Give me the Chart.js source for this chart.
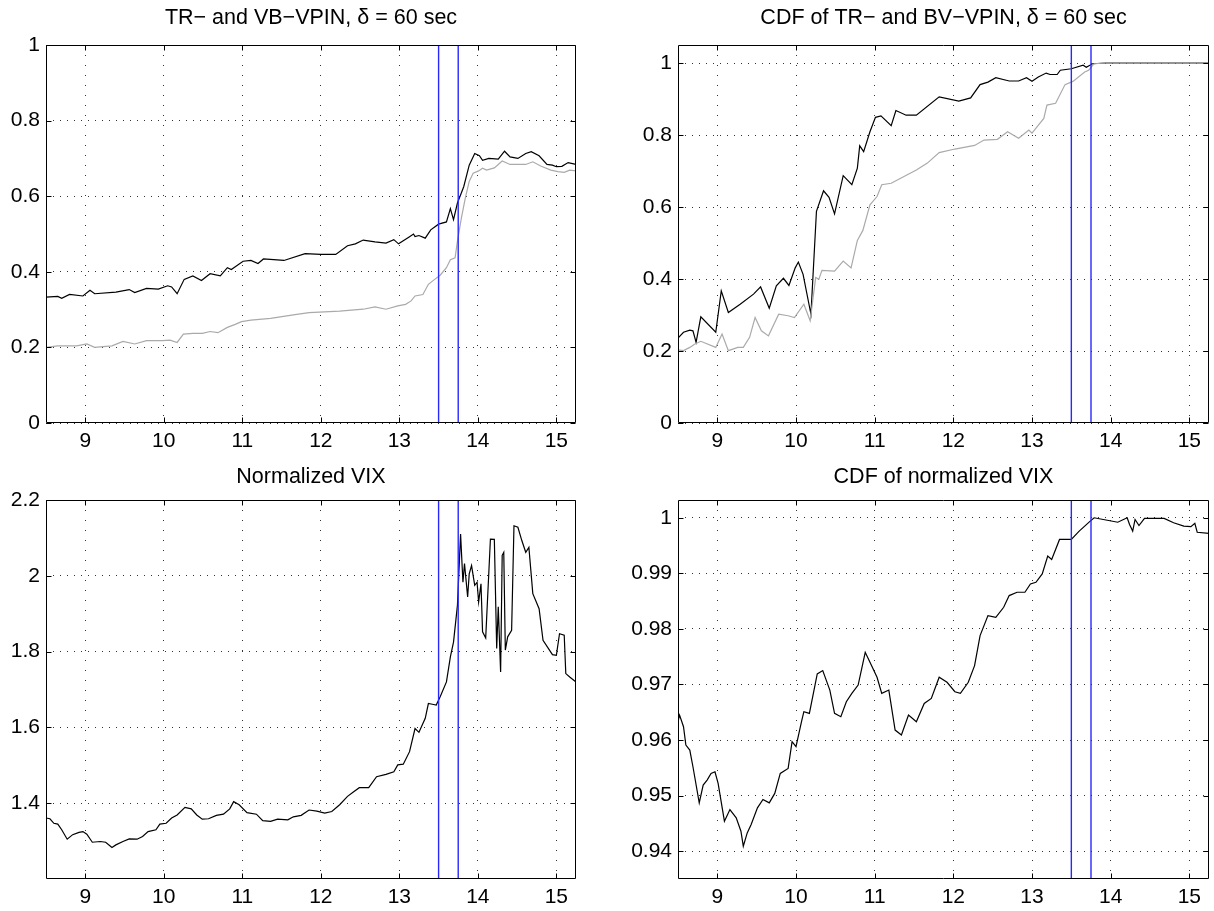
<!DOCTYPE html>
<html>
<head>
<meta charset="utf-8">
<script src="https://cdn.jsdelivr.net/npm/chart.js@4.4.0/dist/chart.umd.min.js"></script>
<style>
  body { margin: 0; background: #fff; }
  #fig { position: relative; width: 1214px; height: 911px; overflow: hidden; }
  #fig canvas { position: absolute; }
</style>
</head>
<body>
<div id="fig">
  <canvas id="c1" width="607" height="455" style="left:0;top:0"></canvas>
  <canvas id="c2" width="607" height="455" style="left:607px;top:0"></canvas>
  <canvas id="c3" width="607" height="456" style="left:0;top:455px"></canvas>
  <canvas id="c4" width="607" height="456" style="left:607px;top:455px"></canvas>
</div>
<script>
// time of day (hours) on every x axis
const xTicks = [9, 10, 11, 12, 13, 14, 15];
const eventTimes = [13.5, 13.75];

// TR-VPIN and VB-VPIN, delta = 60 sec
const trTime = [8.50, 8.65, 8.70, 8.80, 8.97, 9.06, 9.12, 9.39, 9.56, 9.63, 9.78, 9.93, 10.05, 10.10, 10.17, 10.26, 10.37, 10.48, 10.59, 10.72,
  10.81, 10.86, 11.01, 11.11, 11.20, 11.27, 11.53, 11.80, 12.00, 12.19, 12.34, 12.44, 12.54, 12.69, 12.83, 12.93, 12.99, 13.13, 13.18, 13.20,
  13.25, 13.33, 13.40, 13.50, 13.60, 13.65, 13.69, 13.74, 13.82, 13.89, 13.96, 14.02, 14.06, 14.14, 14.26, 14.34, 14.41, 14.51, 14.61, 14.68,
  14.78, 14.88, 14.95, 15.00, 15.07, 15.15, 15.25];
const trVpin = [0.333, 0.335, 0.330, 0.340, 0.336, 0.351, 0.342, 0.346, 0.353, 0.345, 0.356, 0.354, 0.363, 0.360, 0.342, 0.380, 0.389, 0.377, 0.395, 0.389,
  0.411, 0.406, 0.428, 0.430, 0.422, 0.434, 0.430, 0.448, 0.446, 0.446, 0.469, 0.474, 0.484, 0.479, 0.476, 0.485, 0.474, 0.493, 0.500, 0.493,
  0.496, 0.489, 0.511, 0.526, 0.532, 0.567, 0.538, 0.582, 0.625, 0.682, 0.713, 0.707, 0.695, 0.700, 0.698, 0.719, 0.704, 0.700, 0.713, 0.718,
  0.707, 0.684, 0.682, 0.678, 0.679, 0.689, 0.684];

const vbTime = [8.50, 8.65, 8.89, 9.02, 9.12, 9.34, 9.48, 9.63, 9.78, 9.98, 10.08, 10.17, 10.25, 10.37, 10.49, 10.59, 10.69, 10.81, 10.91, 10.99,
  11.11, 11.36, 11.65, 11.85, 12.24, 12.54, 12.69, 12.83, 12.98, 13.08, 13.15, 13.20, 13.30, 13.37, 13.45, 13.52, 13.60, 13.65, 13.71, 13.74,
  13.79, 13.84, 13.89, 13.94, 14.01, 14.06, 14.11, 14.21, 14.31, 14.41, 14.61, 14.70, 14.80, 14.93, 15.02, 15.10, 15.17, 15.25];
const vbVpin = [0.200, 0.204, 0.204, 0.209, 0.200, 0.204, 0.216, 0.209, 0.218, 0.218, 0.219, 0.213, 0.235, 0.237, 0.237, 0.242, 0.239, 0.253, 0.261, 0.268,
  0.272, 0.277, 0.286, 0.292, 0.296, 0.301, 0.307, 0.301, 0.310, 0.314, 0.323, 0.336, 0.340, 0.367, 0.380, 0.391, 0.411, 0.432, 0.437, 0.481,
  0.542, 0.595, 0.639, 0.661, 0.667, 0.674, 0.669, 0.675, 0.693, 0.684, 0.684, 0.691, 0.680, 0.669, 0.665, 0.663, 0.669, 0.667];

// CDF of TR- and BV-VPIN
const trCdfTime = [8.50, 8.57, 8.65, 8.69, 8.73, 8.79, 8.98, 9.05, 9.14, 9.29, 9.46, 9.55, 9.66, 9.75, 9.84, 9.91, 9.99, 10.03, 10.09, 10.19,
  10.26, 10.35, 10.42, 10.49, 10.60, 10.71, 10.78, 10.81, 10.86, 10.94, 11.01, 11.08, 11.21, 11.27, 11.40, 11.53, 11.82, 12.07, 12.22, 12.34,
  12.44, 12.54, 12.71, 12.83, 12.93, 13.00, 13.08, 13.18, 13.23, 13.32, 13.36, 13.50, 13.65, 13.69, 13.77, 13.94, 15.25];
const trCdf = [0.236, 0.252, 0.258, 0.256, 0.224, 0.295, 0.252, 0.367, 0.307, 0.330, 0.358, 0.378, 0.319, 0.381, 0.402, 0.382, 0.431, 0.447, 0.413, 0.302,
  0.588, 0.645, 0.627, 0.581, 0.687, 0.662, 0.708, 0.770, 0.754, 0.809, 0.849, 0.853, 0.826, 0.868, 0.855, 0.855, 0.906, 0.894, 0.903, 0.940,
  0.947, 0.959, 0.950, 0.950, 0.959, 0.949, 0.961, 0.972, 0.968, 0.968, 0.980, 0.984, 0.994, 0.988, 0.998, 1.000, 1.000];

const bvCdfTime = [8.50, 8.57, 8.65, 8.71, 8.79, 8.98, 9.06, 9.14, 9.26, 9.33, 9.41, 9.48, 9.56, 9.65, 9.78, 9.90, 9.98, 10.10, 10.18, 10.25,
  10.29, 10.33, 10.49, 10.60, 10.70, 10.78, 10.85, 10.94, 11.03, 11.09, 11.21, 11.53, 11.67, 11.82, 12.02, 12.27, 12.39, 12.56, 12.69, 12.83,
  12.96, 13.00, 13.15, 13.19, 13.30, 13.42, 13.52, 13.67, 13.72, 13.79, 13.94, 15.25];
const bvCdf = [0.203, 0.201, 0.210, 0.219, 0.227, 0.210, 0.247, 0.201, 0.210, 0.210, 0.238, 0.293, 0.256, 0.242, 0.302, 0.298, 0.293, 0.330, 0.284, 0.404,
  0.399, 0.424, 0.422, 0.450, 0.431, 0.507, 0.535, 0.606, 0.629, 0.662, 0.666, 0.703, 0.722, 0.751, 0.761, 0.771, 0.786, 0.788, 0.809, 0.791,
  0.814, 0.805, 0.846, 0.883, 0.888, 0.940, 0.949, 0.975, 0.980, 0.998, 1.000, 1.000];

// normalized VIX
const vixTime = [8.50, 8.55, 8.60, 8.65, 8.70, 8.77, 8.84, 8.92, 8.97, 9.02, 9.09, 9.19, 9.26, 9.34, 9.39, 9.48, 9.56, 9.66, 9.73, 9.80,
  9.90, 9.95, 10.03, 10.10, 10.17, 10.27, 10.35, 10.42, 10.49, 10.57, 10.67, 10.76, 10.84, 10.89, 10.96, 11.06, 11.18, 11.26, 11.36, 11.45,
  11.58, 11.65, 11.75, 11.85, 11.95, 12.05, 12.14, 12.24, 12.34, 12.41, 12.49, 12.61, 12.71, 12.83, 12.93, 12.98, 13.05, 13.13, 13.20, 13.25,
  13.33, 13.37, 13.42, 13.47, 13.52, 13.60, 13.65, 13.69, 13.74, 13.78, 13.81, 13.83, 13.87, 13.89, 13.92, 13.96, 13.99, 14.01, 14.04, 14.06,
  14.10, 14.16, 14.21, 14.24, 14.26, 14.29, 14.31, 14.33, 14.35, 14.38, 14.43, 14.46, 14.51, 14.56, 14.61, 14.65, 14.70, 14.78, 14.83, 14.95,
  15.00, 15.04, 15.10, 15.12, 15.17, 15.25];
const vix = [1.361, 1.359, 1.347, 1.345, 1.330, 1.305, 1.317, 1.323, 1.325, 1.318, 1.297, 1.299, 1.297, 1.283, 1.290, 1.299, 1.306, 1.305, 1.312, 1.325,
  1.330, 1.345, 1.347, 1.361, 1.369, 1.389, 1.385, 1.369, 1.358, 1.359, 1.368, 1.371, 1.385, 1.404, 1.396, 1.375, 1.371, 1.354, 1.352, 1.358,
  1.356, 1.364, 1.368, 1.382, 1.379, 1.374, 1.378, 1.396, 1.418, 1.429, 1.441, 1.441, 1.470, 1.476, 1.483, 1.501, 1.503, 1.536, 1.597, 1.587,
  1.624, 1.663, 1.661, 1.659, 1.681, 1.720, 1.786, 1.825, 1.922, 2.110, 1.983, 2.032, 1.944, 2.005, 2.027, 1.975, 1.983, 1.931, 1.979, 1.852,
  1.836, 2.097, 2.096, 1.808, 1.918, 1.746, 2.054, 2.062, 1.804, 1.839, 1.856, 2.132, 2.128, 2.093, 2.062, 2.075, 1.953, 1.913, 1.830, 1.792,
  1.790, 1.847, 1.843, 1.742, 1.733, 1.720];

// CDF of normalized VIX
const vixCdfTime = [8.50, 8.52, 8.57, 8.60, 8.65, 8.69, 8.77, 8.82, 8.87, 8.92, 8.97, 9.01, 9.09, 9.16, 9.24, 9.30, 9.33, 9.38, 9.43, 9.51,
  9.58, 9.66, 9.73, 9.80, 9.90, 9.95, 10.00, 10.07, 10.10, 10.17, 10.27, 10.34, 10.43, 10.49, 10.57, 10.64, 10.71, 10.79, 10.88, 10.96,
  11.03, 11.09, 11.18, 11.26, 11.34, 11.43, 11.53, 11.63, 11.72, 11.82, 11.92, 12.02, 12.09, 12.19, 12.27, 12.34, 12.44, 12.54, 12.64, 12.71,
  12.81, 12.91, 12.98, 13.05, 13.13, 13.20, 13.25, 13.35, 13.50, 13.60, 13.74, 13.79, 13.94, 14.09, 14.21, 14.24, 14.28, 14.31, 14.36, 14.43,
  14.68, 14.80, 14.93, 15.02, 15.07, 15.10, 15.25];
const vixCdf = [0.9633, 0.9645, 0.9624, 0.9591, 0.9582, 0.9552, 0.9487, 0.9519, 0.9528, 0.9540, 0.9543, 0.9522, 0.9454, 0.9475, 0.9460, 0.9436, 0.9409, 0.9433, 0.9448, 0.9478,
  0.9493, 0.9487, 0.9504, 0.9540, 0.9549, 0.9597, 0.9588, 0.9633, 0.9651, 0.9648, 0.9719, 0.9725, 0.9690, 0.9648, 0.9642, 0.9669, 0.9684, 0.9699, 0.9758, 0.9734,
  0.9713, 0.9684, 0.9690, 0.9618, 0.9609, 0.9645, 0.9633, 0.9666, 0.9675, 0.9713, 0.9704, 0.9687, 0.9684, 0.9704, 0.9734, 0.9788, 0.9824, 0.9821, 0.9839, 0.9860,
  0.9866, 0.9866, 0.9881, 0.9884, 0.9899, 0.9931, 0.9925, 0.9961, 0.9961, 0.9976, 0.9994, 1.0000, 0.9996, 0.9992, 1.0000, 0.9988, 0.9976, 0.9997, 0.9986, 0.9999,
  0.9999, 0.9991, 0.9985, 0.9984, 0.9990, 0.9974, 0.9972];

const FONT = '"Liberation Sans", Arial, Helvetica, sans-serif';
const BLUE = 'rgb(40,40,255)';
const GREY = 'rgb(170,170,170)';

function points(times, values) {
  return times.map((t, i) => ({ x: t, y: values[i] }));
}

function lineSet(times, values, color) {
  return { data: points(times, values), borderColor: color, borderWidth: 1.2, pointRadius: 0, tension: 0, fill: false };
}

// MATLAB-like box with inward tick marks and a title
const matlabBox = {
  id: 'matlabBox',
  afterDatasetsDraw(chart) {
    const { ctx, chartArea: a, scales } = chart;
    const L = Math.round(a.left) + 0.5, R = Math.round(a.right) - 0.5;
    const T = Math.round(a.top) + 0.5, B = Math.round(a.bottom) - 0.5;
    ctx.save();
    ctx.strokeStyle = '#000';
    ctx.lineWidth = 1;
    ctx.beginPath();
    scales.x.ticks.forEach(t => {
      const p = Math.round(scales.x.getPixelForValue(t.value)) + 0.5;
      ctx.moveTo(p, B); ctx.lineTo(p, B - 5);
      ctx.moveTo(p, T); ctx.lineTo(p, T + 5);
    });
    scales.y.ticks.forEach(t => {
      const p = Math.round(scales.y.getPixelForValue(t.value)) + 0.5;
      ctx.moveTo(L, p); ctx.lineTo(L + 5, p);
      ctx.moveTo(R, p); ctx.lineTo(R - 5, p);
    });
    ctx.rect(L, T, R - L, B - T);
    ctx.stroke();
    ctx.restore();
  },
  afterDraw(chart) {
    const o = chart.options.plugins.matlabBox;
    const a = chart.chartArea;
    const ctx = chart.ctx;
    ctx.save();
    ctx.fillStyle = '#000';
    ctx.font = '21.5px ' + FONT;
    ctx.textAlign = 'center';
    ctx.textBaseline = 'middle';
    ctx.fillText(o.title, (a.left + a.right) / 2, o.titleY);
    ctx.restore();
  }
};

function makePanel(id, p) {
  const canvas = document.getElementById(id);
  const W = canvas.width, H = canvas.height;
  const sets = p.series.slice();
  eventTimes.forEach(t => {
    sets.unshift({ data: [{ x: t, y: p.yMin }, { x: t, y: p.yMax }], borderColor: BLUE, borderWidth: 1.4, pointRadius: 0, fill: false });
  });
  const tickFont = { family: FONT, size: 21 };
  return new Chart(canvas.getContext('2d'), {
    type: 'line',
    data: { datasets: sets },
    options: {
      responsive: false,
      animation: false,
      devicePixelRatio: 1,
      layout: { padding: { left: 0, top: p.area.top, right: W - p.area.right, bottom: 0 } },
      plugins: {
        legend: { display: false },
        tooltip: { enabled: false },
        matlabBox: { title: p.title, titleY: p.titleY }
      },
      scales: {
        x: {
          type: 'linear', min: 8.5, max: 15.25,
          afterBuildTicks: s => { s.ticks = xTicks.map(v => ({ value: v })); },
          afterFit: s => { s.height = H - p.area.bottom; },
          grid: { color: 'rgba(0,0,0,0.8)', lineWidth: 1, drawTicks: false },
          border: { display: false, dash: [1, 9] },
          ticks: { font: tickFont, color: '#000', padding: 6, maxRotation: 0, autoSkip: false, callback: v => String(v) }
        },
        y: {
          type: 'linear', min: p.yMin, max: p.yMax,
          afterBuildTicks: s => { s.ticks = p.yTicks.map(v => ({ value: v })); },
          afterFit: s => { s.width = p.area.left; },
          grid: { color: 'rgba(0,0,0,0.8)', lineWidth: 1, drawTicks: false },
          border: { display: false, dash: [1, 6] },
          ticks: { font: tickFont, color: '#000', padding: 6, autoSkip: false, callback: v => String(+v.toFixed(3)) }
        }
      }
    },
    plugins: [matlabBox]
  });
}

makePanel('c1', {
  title: 'TR\u2212 and VB\u2212VPIN, \u03b4 = 60 sec', titleY: 18,
  area: { left: 46, top: 45, right: 576, bottom: 423 },
  yMin: 0, yMax: 1, yTicks: [0, 0.2, 0.4, 0.6, 0.8, 1],
  series: [lineSet(vbTime, vbVpin, GREY), lineSet(trTime, trVpin, '#000')]
});

makePanel('c2', {
  title: 'CDF of TR\u2212 and BV\u2212VPIN, \u03b4 = 60 sec', titleY: 18,
  area: { left: 71, top: 45, right: 602, bottom: 423 },
  yMin: 0, yMax: 1.05, yTicks: [0, 0.2, 0.4, 0.6, 0.8, 1],
  series: [lineSet(bvCdfTime, bvCdf, GREY), lineSet(trCdfTime, trCdf, '#000')]
});

makePanel('c3', {
  title: 'Normalized VIX', titleY: 22,
  area: { left: 46, top: 45, right: 576, bottom: 424 },
  yMin: 1.2, yMax: 2.2, yTicks: [1.4, 1.6, 1.8, 2, 2.2],
  series: [lineSet(vixTime, vix, '#000')]
});

makePanel('c4', {
  title: 'CDF of normalized VIX', titleY: 22,
  area: { left: 71, top: 45, right: 602, bottom: 424 },
  yMin: 0.935, yMax: 1.0032, yTicks: [0.94, 0.95, 0.96, 0.97, 0.98, 0.99, 1],
  series: [lineSet(vixCdfTime, vixCdf, '#000')]
});
</script>
</body>
</html>
